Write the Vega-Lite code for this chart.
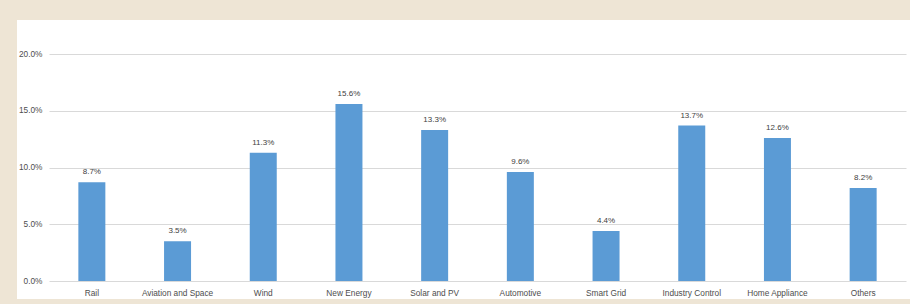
{
  "$schema": "https://vega.github.io/schema/vega-lite/v6.json",
  "width": 893,
  "height": 279,
  "autosize": {"type": "none"},
  "padding": {"left": 17, "top": 20, "right": 0, "bottom": 5},
  "background": "#EEE5D5",
  "config": {
    "view": {"fill": "#FFFFFF", "stroke": null},
    "font": "Liberation Sans"
  },
  "data": {
    "values": [
      {"segment": "Rail", "share": 0.087},
      {"segment": "Aviation and Space", "share": 0.035},
      {"segment": "Wind", "share": 0.113},
      {"segment": "New Energy", "share": 0.156},
      {"segment": "Solar and PV", "share": 0.133},
      {"segment": "Automotive", "share": 0.096},
      {"segment": "Smart Grid", "share": 0.044},
      {"segment": "Industry Control", "share": 0.137},
      {"segment": "Home Appliance", "share": 0.126},
      {"segment": "Others", "share": 0.082}
    ]
  },
  "encoding": {
    "x": {
      "field": "segment",
      "type": "nominal",
      "sort": null,
      "scale": {"range": [32, 889], "paddingInner": 0.685, "paddingOuter": 0.3425},
      "axis": {
        "title": null,
        "orient": "bottom",
        "offset": -18,
        "domain": false,
        "ticks": false,
        "tickSize": 0,
        "labelPadding": 7,
        "labelAngle": 0,
        "labelFontSize": 8.3,
        "labelColor": "#4D4D4D",
        "grid": false
      }
    },
    "y": {
      "field": "share",
      "type": "quantitative",
      "scale": {"domain": [-0.01586, 0.23], "nice": false, "zero": false},
      "axis": {
        "title": null,
        "offset": -32,
        "domain": false,
        "ticks": false,
        "tickSize": 0,
        "labelPadding": 7,
        "values": [0, 0.05, 0.1, 0.15, 0.2],
        "format": ".1%",
        "labelFontSize": 8.3,
        "labelColor": "#4D4D4D",
        "grid": true,
        "gridColor": "#D9D9D9",
        "gridWidth": 1
      }
    }
  },
  "layer": [
    {
      "mark": {"type": "bar", "color": "#5B9BD5"},
      "encoding": {"y2": {"datum": 0}}
    },
    {
      "mark": {"type": "text", "baseline": "bottom", "dy": -6, "fontSize": 8, "color": "#404040"},
      "encoding": {
        "text": {"field": "share", "type": "quantitative", "format": ".1%"}
      }
    }
  ]
}
